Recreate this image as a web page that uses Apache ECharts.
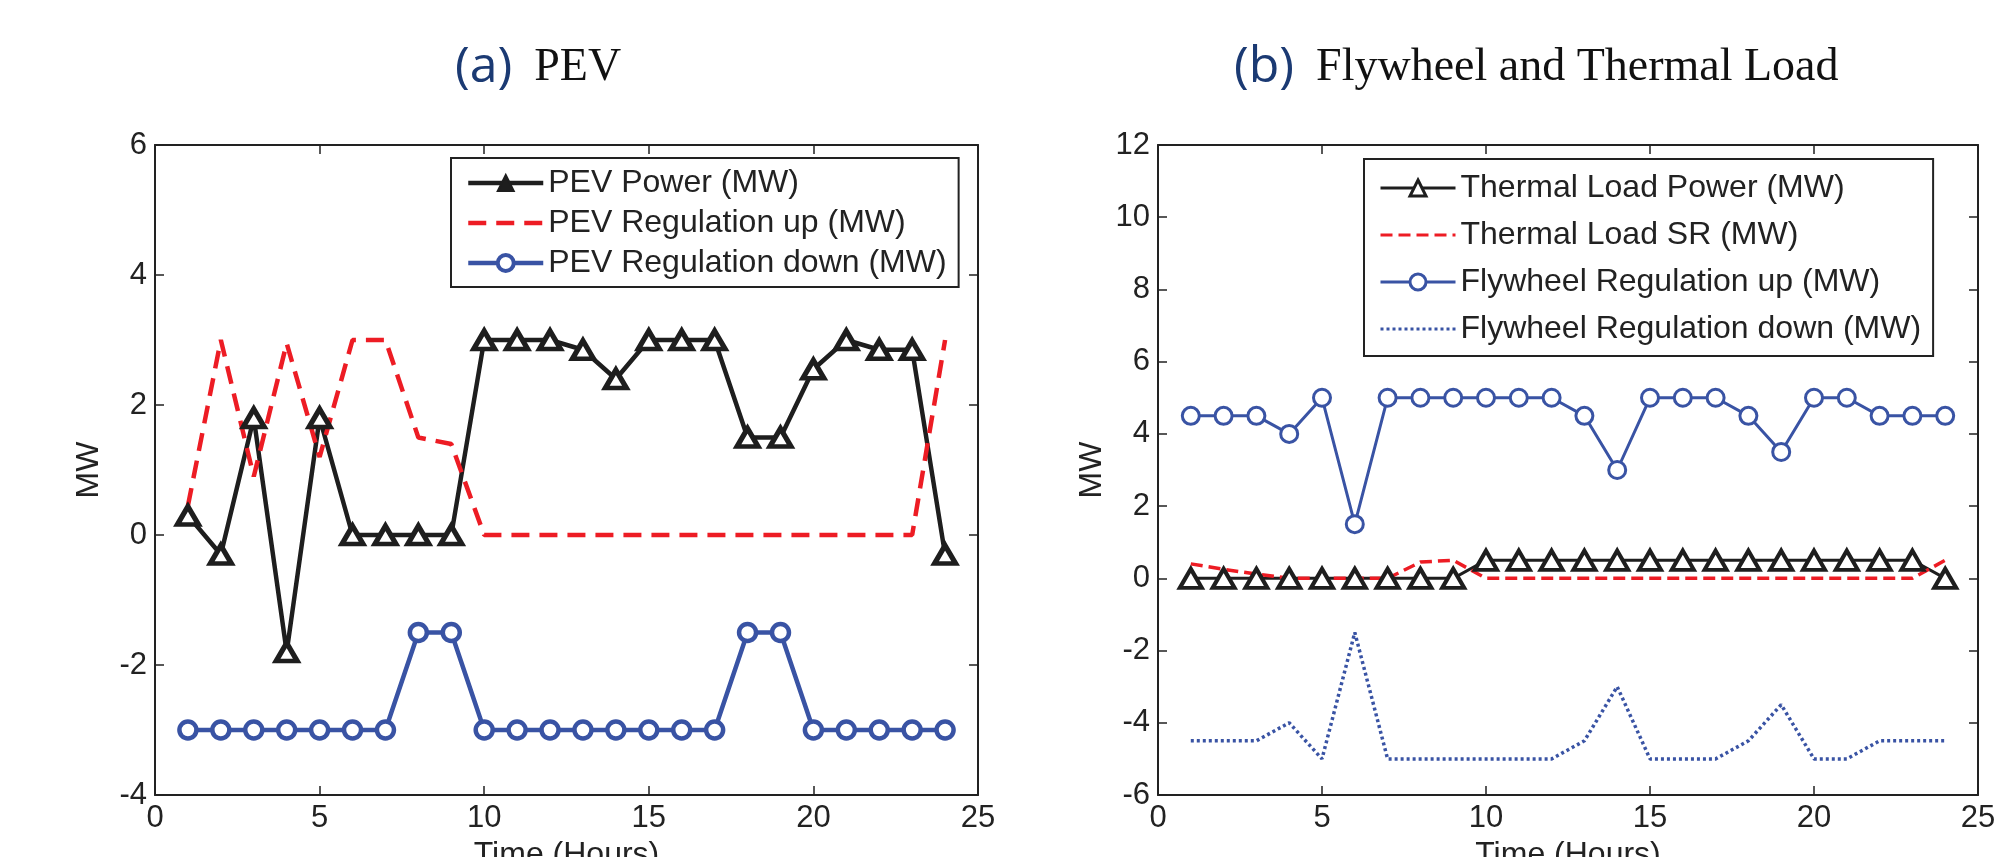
<!DOCTYPE html>
<html>
<head>
<meta charset="utf-8">
<title>PEV / Flywheel and Thermal Load</title>
<script src="https://cdn.jsdelivr.net/npm/echarts@6/dist/echarts.min.js"></script>
<style>
  html, body { margin: 0; padding: 0; background: #fff; }
  #chart { width: 2012px; height: 857px; }
</style>
</head>
<body>
<div id="chart"></div>
<script>
// hours on the x axis
const hours = [1, 2, 3, 4, 5, 6, 7, 8, 9, 10, 11, 12, 13, 14, 15, 16, 17, 18, 19, 20, 21, 22, 23, 24]

// (a) PEV
const pevPower = [0.3, -0.3, 1.8, -1.8, 1.8, 0, 0, 0, 0, 3, 3, 3, 2.85, 2.4, 3, 3, 3, 1.5, 1.5, 2.55, 3, 2.85, 2.85, -0.3]
const pevRegUp = [0.45, 3, 0.9, 2.95, 1.2, 3, 3, 1.5, 1.4, 0, 0, 0, 0, 0, 0, 0, 0, 0, 0, 0, 0, 0, 0, 3]
const pevRegDown = [-3, -3, -3, -3, -3, -3, -3, -1.5, -1.5, -3, -3, -3, -3, -3, -3, -3, -3, -1.5, -1.5, -3, -3, -3, -3, -3]

// (b) Flywheel and Thermal Load
const thermalPower = [0, 0, 0, 0, 0, 0, 0, 0, 0, 0.5, 0.5, 0.5, 0.5, 0.5, 0.5, 0.5, 0.5, 0.5, 0.5, 0.5, 0.5, 0.5, 0.5, 0]
const thermalSR = [0.4, 0.25, 0.12, 0, 0, 0, 0, 0.45, 0.5, 0, 0, 0, 0, 0, 0, 0, 0, 0, 0, 0, 0, 0, 0, 0.5]
const flyRegUp = [4.5, 4.5, 4.5, 4, 5, 1.5, 5, 5, 5, 5, 5, 5, 4.5, 3, 5, 5, 5, 4.5, 3.5, 5, 5, 4.5, 4.5, 4.5]
const flyRegDown = [-4.5, -4.5, -4.5, -4, -5, -1.5, -5, -5, -5, -5, -5, -5, -4.5, -3, -5, -5, -5, -4.5, -3.5, -5, -5, -4.5, -4.5, -4.5]

const seriesNamesA = ['PEV Power (MW)', 'PEV Regulation up (MW)', 'PEV Regulation down (MW)']
const seriesNamesB = ['Thermal Load Power (MW)', 'Thermal Load SR (MW)', 'Flywheel Regulation up (MW)', 'Flywheel Regulation down (MW)']

const BLACK = '#1e1e1e'
const RED = '#ed1c24'
const BLUE = '#3953a4'
const AXIS = '#222'
const SANS = 'Liberation Sans, Arial, sans-serif'

const pairs = vals => hours.map((h, i) => [h, vals[i]])

const axisLine = { show: true, onZero: false, lineStyle: { color: AXIS, width: 2 } }
const axisTick = { show: true, inside: true, length: 9, lineStyle: { color: AXIS, width: 1.5 } }
const labelStyle = { fontFamily: SANS, fontSize: 31, color: AXIS }

function makeXAxes(gridIndex) {
  return [
    {
      type: 'value', gridIndex, position: 'bottom', min: 0, max: 25, interval: 5,
      name: 'Time (Hours)', nameLocation: 'middle', nameGap: 44,
      nameTextStyle: { fontFamily: SANS, fontSize: 32, color: AXIS },
      axisLine, axisTick, axisLabel: Object.assign({ margin: 8 }, labelStyle),
      splitLine: { show: false }
    },
    {
      type: 'value', gridIndex, position: 'top', min: 0, max: 25, interval: 5,
      axisLine, axisTick, axisLabel: { show: false }, splitLine: { show: false }
    }
  ]
}

function makeYAxes(gridIndex, min, max) {
  return [
    {
      type: 'value', gridIndex, position: 'left', min, max, interval: 2,
      name: 'MW', nameLocation: 'middle', nameGap: 50, nameRotate: 90,
      nameTextStyle: { fontFamily: SANS, fontSize: 32, color: AXIS },
      axisLine, axisTick, axisLabel: Object.assign({ margin: 8 }, labelStyle),
      splitLine: { show: false }
    },
    {
      type: 'value', gridIndex, position: 'right', min, max, interval: 2,
      axisLine, axisTick, axisLabel: { show: false }, splitLine: { show: false }
    }
  ]
}

const legendBase = {
  orient: 'vertical',
  itemWidth: 75,
  itemHeight: 20,
  borderColor: AXIS,
  borderWidth: 2,
  borderRadius: 0,
  backgroundColor: '#fff',
  selectedMode: false,
  textStyle: { fontFamily: SANS, fontSize: 32, color: AXIS, lineHeight: 30 }
}

const titleRich = {
  a: { fontFamily: 'Open Sans, sans-serif', fontSize: 50, fontWeight: 'normal', color: '#1b3a73', lineHeight: 60, padding: [0, 22, 0, 0] },
  b: { fontFamily: 'Liberation Serif, Times New Roman, serif', fontSize: 46, fontWeight: 'normal', color: '#111', lineHeight: 60 }
}

const option = {
  animation: false,
  backgroundColor: '#fff',
  title: [
    { text: '{a|(a)}{b|PEV}', left: 455, top: 38, padding: 0, textStyle: { fontWeight: 'normal', rich: titleRich } },
    { text: '{a|(b)}{b|Flywheel and Thermal Load}', left: 1234, top: 38, padding: 0, textStyle: { fontWeight: 'normal', rich: titleRich } }
  ],
  grid: [
    { left: 155, top: 145, width: 823, height: 650, outerBoundsMode: 'none' },
    { left: 1158, top: 145, width: 820, height: 650, outerBoundsMode: 'none' }
  ],
  xAxis: makeXAxes(0).concat(makeXAxes(1)),
  yAxis: makeYAxes(0, -4, 6).concat(makeYAxes(1, -6, 12)),
  legend: [
    Object.assign({}, legendBase, {
      left: 451, top: 158, padding: [9, 12, 8, 15], itemGap: 8,
      data: [
        { name: seriesNamesA[0], lineStyle: { color: BLACK, width: 4.5 }, itemStyle: { color: BLACK, borderColor: BLACK, borderWidth: 2 } },
        { name: seriesNamesA[1], lineStyle: { color: RED, width: 4.5, type: [18, 10] }, itemStyle: { opacity: 0 } },
        { name: seriesNamesA[2], lineStyle: { color: BLUE, width: 4.5 }, itemStyle: { color: '#fff', borderColor: BLUE, borderWidth: 4 } }
      ]
    }),
    Object.assign({}, legendBase, {
      left: 1364, top: 159, padding: [13, 12, 11, 15], itemGap: 15,
      data: [
        { name: seriesNamesB[0], lineStyle: { color: BLACK, width: 3 }, itemStyle: { color: '#fff', borderColor: BLACK, borderWidth: 3 } },
        { name: seriesNamesB[1], lineStyle: { color: RED, width: 3, type: [12, 6] }, itemStyle: { opacity: 0 } },
        { name: seriesNamesB[2], lineStyle: { color: BLUE, width: 3 }, itemStyle: { color: '#fff', borderColor: BLUE, borderWidth: 3 } },
        { name: seriesNamesB[3], lineStyle: { color: BLUE, width: 3, type: [3, 3] }, itemStyle: { opacity: 0 } }
      ]
    })
  ],
  series: [
    {
      name: seriesNamesA[0], type: 'line', xAxisIndex: 0, yAxisIndex: 0,
      data: pairs(pevPower),
      symbol: 'triangle', symbolSize: [21, 18],
      itemStyle: { color: '#fff', borderColor: BLACK, borderWidth: 5 },
      lineStyle: { color: BLACK, width: 4.5 }
    },
    {
      name: seriesNamesA[1], type: 'line', xAxisIndex: 0, yAxisIndex: 0,
      data: pairs(pevRegUp),
      symbol: 'none',
      itemStyle: { color: RED },
      lineStyle: { color: RED, width: 4.5, type: [18, 10] }
    },
    {
      name: seriesNamesA[2], type: 'line', xAxisIndex: 0, yAxisIndex: 0,
      data: pairs(pevRegDown),
      symbol: 'circle', symbolSize: 17,
      itemStyle: { color: '#fff', borderColor: BLUE, borderWidth: 4.5 },
      lineStyle: { color: BLUE, width: 4.5 }
    },
    {
      name: seriesNamesB[0], type: 'line', xAxisIndex: 2, yAxisIndex: 2,
      data: pairs(thermalPower),
      symbol: 'triangle', symbolSize: [22, 19],
      itemStyle: { color: '#fff', borderColor: BLACK, borderWidth: 4 },
      lineStyle: { color: BLACK, width: 3 }
    },
    {
      name: seriesNamesB[1], type: 'line', xAxisIndex: 2, yAxisIndex: 2,
      data: pairs(thermalSR),
      symbol: 'none',
      itemStyle: { color: RED },
      lineStyle: { color: RED, width: 3.5, type: [12, 6] }
    },
    {
      name: seriesNamesB[2], type: 'line', xAxisIndex: 2, yAxisIndex: 2,
      data: pairs(flyRegUp),
      symbol: 'circle', symbolSize: 17,
      itemStyle: { color: '#fff', borderColor: BLUE, borderWidth: 3 },
      lineStyle: { color: BLUE, width: 3 }
    },
    {
      name: seriesNamesB[3], type: 'line', xAxisIndex: 2, yAxisIndex: 2,
      data: pairs(flyRegDown),
      symbol: 'none',
      itemStyle: { color: BLUE },
      lineStyle: { color: BLUE, width: 3.5, type: [3, 3] }
    }
  ]
}

const chart = echarts.init(document.getElementById('chart'))
chart.setOption(option)
</script>
</body>
</html>
